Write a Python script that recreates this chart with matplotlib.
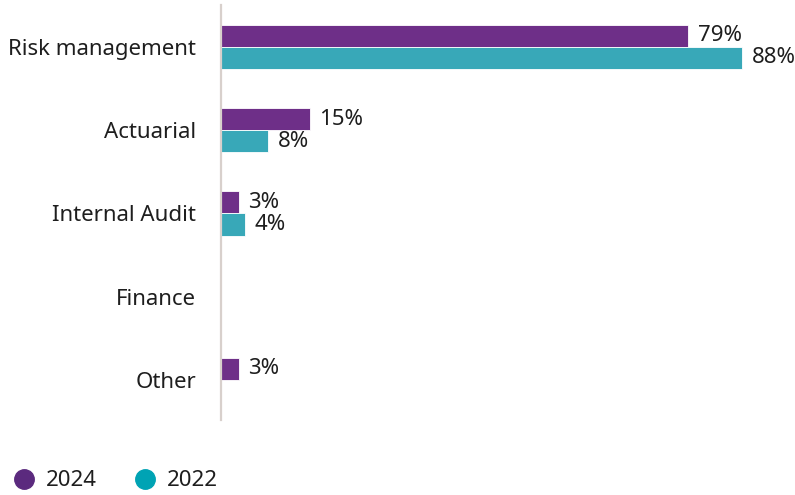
import matplotlib.pyplot as plt
from matplotlib.lines import Line2D
import numpy as np

# Share of respondents by function
categories = ["Risk management", "Actuarial", "Internal Audit", "Finance", "Other"]
values_2024 = [79, 15, 3, None, 3]
values_2022 = [88, 8, 4, None, None]
series_names = ["2024", "2022"]

bar_colors = ["#6E2F88", "#38A8B8"]
legend_colors = ["#5B2A7E", "#00A3B4"]
text_color = "#1E1E1E"

plt.rcParams['font.family'] = ['Noto Sans', 'DejaVu Sans']

fig = plt.figure(figsize=(7.95, 4.95), dpi=100)
ax = fig.add_axes([221 / 795, 1 - 420 / 495, 1 - 221 / 795, 415 / 495])

y = np.arange(len(categories))
h = 0.265

for offset, vals, color in [(-h / 2, values_2024, bar_colors[0]),
                            (h / 2, values_2022, bar_colors[1])]:
    for yi, v in zip(y, vals):
        if v is None:
            continue
        ax.barh(yi + offset, v, height=h, color=color, edgecolor="white", linewidth=0.6)
        ax.annotate(f"{v}%", (v, yi + offset), xytext=(7, 0), textcoords="offset points",
                    va="center", ha="left", fontsize=16, color=text_color)

ax.set_xlim(0, 97)
ax.set_ylim(4.48, -0.504)
ax.set_yticks(y)
ax.set_yticklabels(categories, fontsize=16, color=text_color)
ax.tick_params(axis="y", length=0, pad=18)
ax.set_xticks([])
for side in ["top", "right", "bottom"]:
    ax.spines[side].set_visible(False)
ax.spines["left"].set_color("#D8D0CC")
ax.spines["left"].set_linewidth(1.6)

handles = [Line2D([], [], marker="o", linestyle="none", markersize=14,
                  markerfacecolor=c, markeredgecolor=c) for c in legend_colors]
fig.legend(handles, series_names, loc="center left", bbox_to_anchor=(-0.023, 1 - 481 / 495),
           ncol=2, frameon=False, fontsize=16, handletextpad=0.0, columnspacing=1.15,
           labelcolor=text_color)

fig.savefig("out.png", dpi=100)
